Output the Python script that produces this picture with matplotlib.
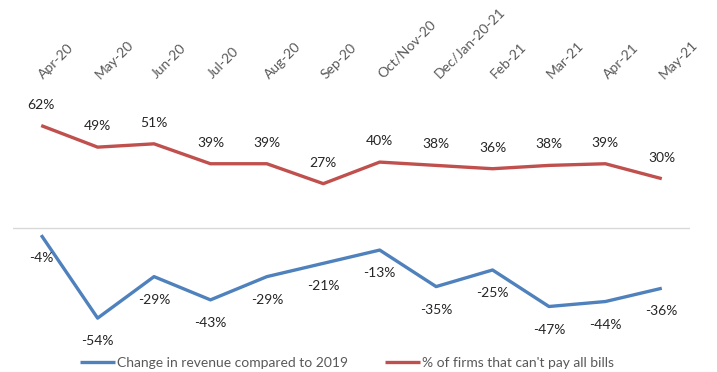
import numpy as np
import matplotlib
matplotlib.use("Agg")
import matplotlib.pyplot as plt

plt.rcParams['font.family'] = ['Lato', 'DejaVu Sans']

months = ["Apr-20", "May-20", "Jun-20", "Jul-20", "Aug-20", "Sep-20",
          "Oct/Nov-20", "Dec/Jan-20-21", "Feb-21", "Mar-21", "Apr-21", "May-21"]
revenue_change = [-4, -54, -29, -43, -29, -21, -13, -35, -25, -47, -44, -36]
cant_pay_bills = [62, 49, 51, 39, 39, 27, 40, 38, 36, 38, 39, 30]

blue = "#4f81bd"
red = "#c0504d"

fig = plt.figure(figsize=(7.17, 3.72), dpi=100)
ax = fig.add_axes([13 / 717, 0.0511, 677 / 717, 0.714])

x = np.arange(len(months))
l1, = ax.plot(x, revenue_change, color=blue, lw=2.4, solid_capstyle="butt",
              label="Change in revenue compared to 2019")
l2, = ax.plot(x, cant_pay_bills, color=red, lw=2.4, solid_capstyle="butt",
              label="% of firms that can't pay all bills")
ax.axhline(0, color="#d9d9d9", lw=1, zorder=0)

for xi, v in zip(x, cant_pay_bills):
    ax.annotate(f"{v}%", (xi, v), xytext=(0, 21), textcoords="offset pixels",
                ha="center", va="center", fontsize=10, color="#262626")
for xi, v in zip(x, revenue_change):
    ax.annotate(f"{v}%", (xi, v), xytext=(0, -23), textcoords="offset pixels",
                ha="center", va="center", fontsize=10, color="#262626")

ax.set_xlim(-0.5, 11.5)
ax.set_ylim(-75, 85)
ax.xaxis.tick_top()
ax.set_xticks(x)
ax.set_xticklabels(months, rotation=45, ha="left", va="center",
                   rotation_mode="anchor", fontsize=10, color="#595959")
ax.tick_params(axis="x", length=0, pad=8)
ax.set_yticks([])
for s in ax.spines.values():
    s.set_visible(False)

fig.legend(handles=[l1, l2], loc="center", bbox_to_anchor=(0.484, 0.024),
           ncol=2, frameon=False, fontsize=10, handlelength=2.5,
           handletextpad=0.15, columnspacing=2.7,
           labelcolor="#595959")

fig.savefig("out.png", dpi=100)
